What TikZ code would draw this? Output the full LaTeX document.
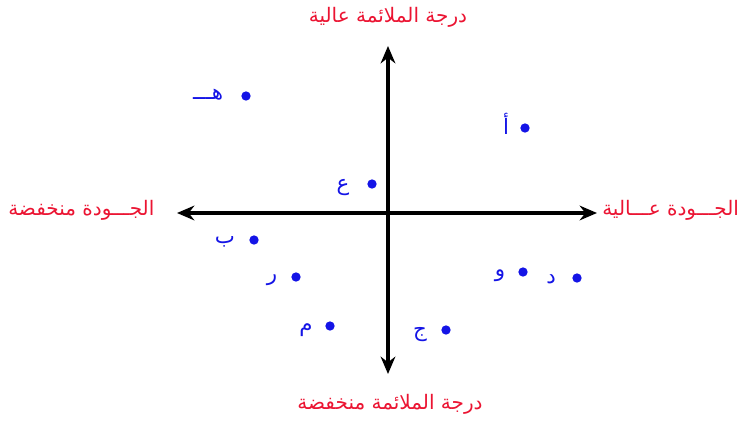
\documentclass[tikz,border=0pt]{standalone}
\usepackage{fontspec}
\newfontfamily\arabicfont[Script=Arabic]{DejaVu Sans}
\TeXXeTstate=1
\usetikzlibrary{arrows.meta}
\definecolor{axred}{RGB}{235,20,50}
\definecolor{ptblue}{RGB}{20,20,230}
\newcommand{\ar}[1]{\arabicfont\beginR #1\endR}
\begin{document}
\begin{tikzpicture}[x=0.75pt,y=-0.75pt,
  axis/.style={line width=2.8pt,-{Stealth[length=13pt,width=11pt]}},
  axlabel/.style={text=axred,font=\fontsize{15}{17}\selectfont,inner sep=0pt},
  ptdot/.style={circle,fill=ptblue,inner sep=0pt,minimum size=7pt},
  ptlabel/.style={text=ptblue,font=\fontsize{16}{18}\selectfont,inner sep=0pt}]
\useasboundingbox (0,0) rectangle (756,421);
\coordinate (c) at (388,213);
\node[axlabel] (top) at (388,17) {\ar{درجة الملائمة عالية}};
\node[axlabel] (bot) at (390,404) {\ar{درجة الملائمة منخفضة}};
\node[axlabel,anchor=west] (left) at (8,210) {\ar{الجـــودة منخفضة}};
\node[axlabel,anchor=west] (right) at (602,210) {\ar{الجـــودة عـــالية}};
\coordinate (T) at (388,46);
\coordinate (B) at (388,374);
\coordinate (L) at (177,213);
\coordinate (R) at (597,213);
\draw[axis] (c) -- (T);
\draw[axis] (c) -- (B);
\draw[axis] (c) -- (L);
\draw[axis] (c) -- (R);
% points
\node[ptdot] (h) at (246,96) {};
\node[ptlabel] (hl) at (208,95) {\ar{هـــ}};
\node[ptdot] (a) at (525,128) {};
\node[ptlabel] (al) at (506,124) {\ar{أ}};
\node[ptdot] (e) at (372,184) {};
\node[ptlabel] (el) at (343,188) {\ar{ع}};
\node[ptdot] (b) at (254,240) {};
\node[ptlabel] (bl) at (225,242) {\ar{ب}};
\node[ptdot] (r) at (296,277) {};
\node[ptlabel] (rl) at (272,280) {\ar{ر}};
\node[ptdot] (m) at (330,326) {};
\node[ptlabel] (ml) at (306,330) {\ar{م}};
\node[ptdot] (j) at (446,330) {};
\node[ptlabel] (jl) at (420,335) {\ar{ج}};
\node[ptdot] (d) at (577,278) {};
\node[ptlabel] (dl) at (551,279) {\ar{د}};
\node[ptdot] (w) at (523,272) {};
\node[ptlabel] (wl) at (500,276) {\ar{و}};
\end{tikzpicture}
\end{document}
